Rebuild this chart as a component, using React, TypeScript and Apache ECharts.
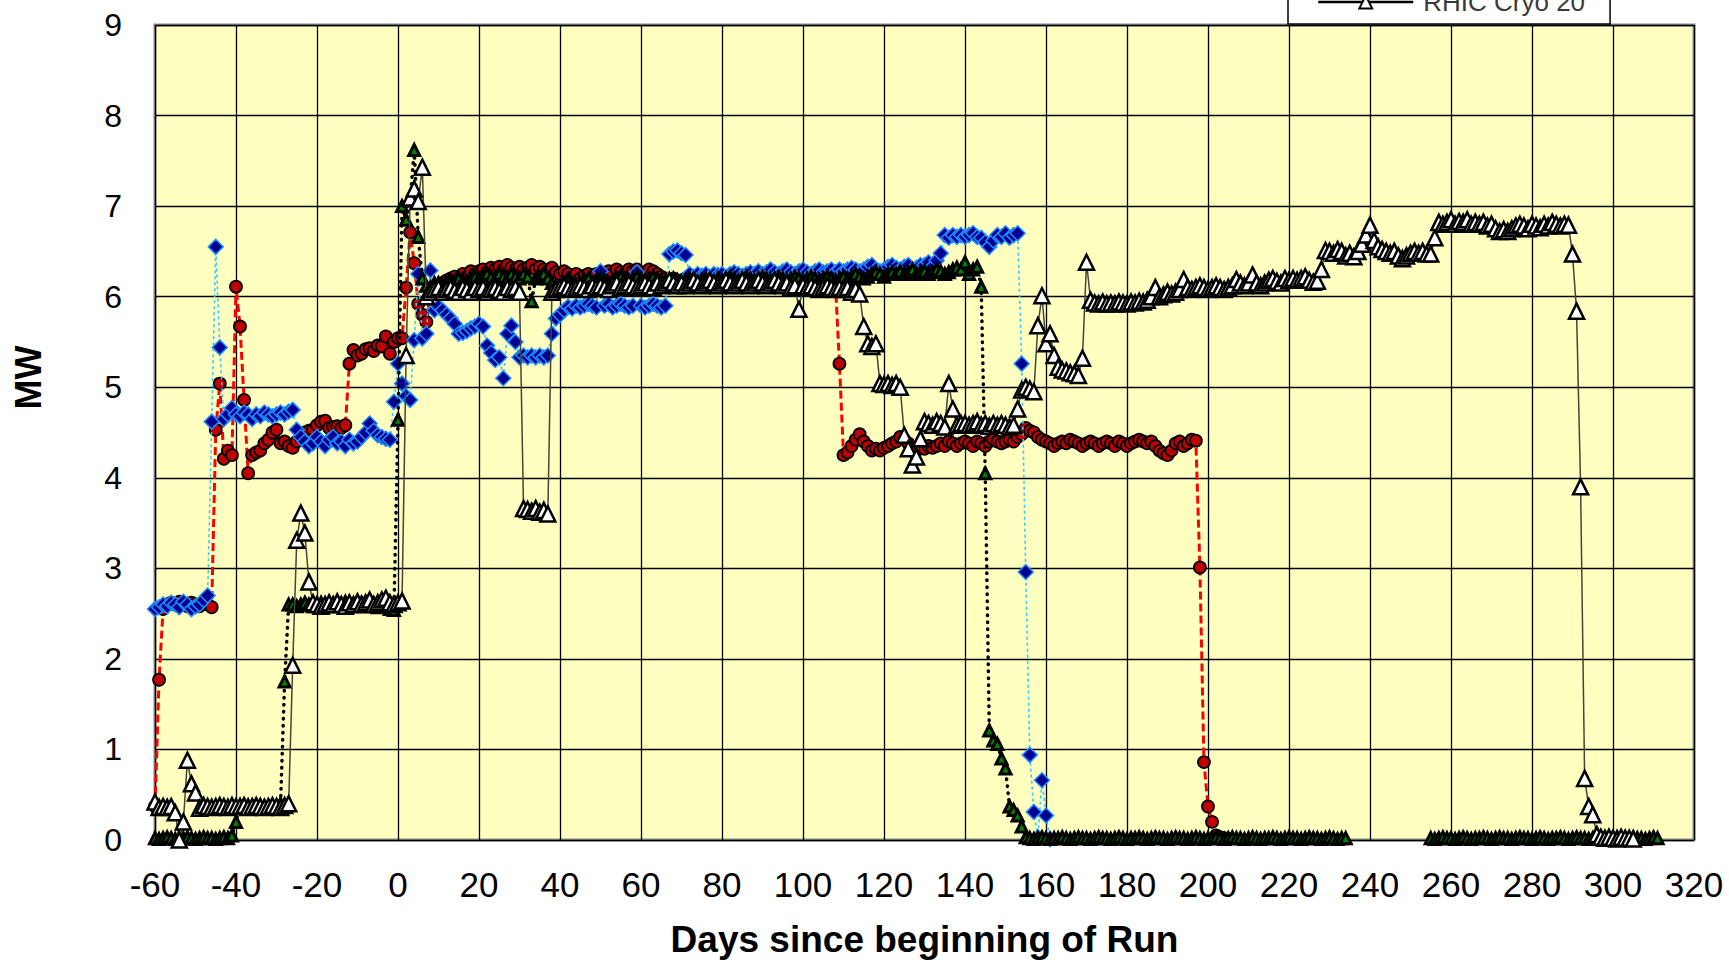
import React, { useEffect, useRef } from "react";
import * as echarts from "echarts";

// Day index of the first value in each series array (one value per day)
const RED_START = -60;
const BLUE_START = -60;
const GREEN_START_A = -60;
const GREEN_START_B = 255;
const WHITE_START = -60;

const xTicks = { min: -60, max: 320, step: 20 };
const yTicks = { min: 0, max: 9, step: 1 };

const seriesNames = ["RHIC Cryo 17", "RHIC Cryo 18", "RHIC Cryo 19", "RHIC Cryo 20"];

// Red circles, dashed red line (MW)
const redMW = [
  0.37, 1.77, 2.55, 2.6, 2.62, 2.6, 2.63, 2.6, 2.58, 2.62,
  2.6, 2.58, 2.62, 2.6, 2.57, 4.53, 5.04, 4.21, 4.3, 4.25,
  6.11, 5.67, 4.86, 4.05, 4.25, 4.28, 4.3, 4.38, 4.42, 4.5,
  4.53, 4.38, 4.4, 4.35, 4.33, 4.4, 4.45, 4.5, 4.52, 4.53,
  4.58, 4.62, 4.63, 4.55, 4.56, 4.57, 4.55, 4.58, 5.26, 5.41,
  5.35, 5.37, 5.42, 5.43, 5.4, 5.46, 5.45, 5.56, 5.37, 5.5,
  5.54, 5.54, 6.1, 6.71, 6.37, 5.92, 5.8, 5.72, 6.05, 6.12,
  6.12, 6.15, 6.18, 6.2, 6.22, 6.2, 6.25, 6.22, 6.28, 6.25,
  6.28, 6.3, 6.27, 6.32, 6.3, 6.33, 6.3, 6.35, 6.32, 6.3,
  6.33, 6.3, 6.32, 6.35, 6.3, 6.33, 6.3, 6.28, 6.32, 6.27,
  6.25, 6.28, 6.25, 6.22, 6.25, 6.2, 6.23, 6.25, 6.22, 6.25,
  6.22, 6.25, 6.28, 6.25, 6.3, 6.27, 6.25, 6.3, 6.28, 6.3,
  6.25, 6.27, 6.3, 6.28, 6.25, 6.22, 6.2, 6.18, 6.2, 6.15,
  6.18, 6.2, 6.15, 6.18, 6.2, 6.17, 6.2, 6.15, 6.18, 6.2,
  6.2, 6.18, 6.2, 6.22, 6.2, 6.18, 6.2, 6.22, 6.2, 6.18,
  6.2, 6.22, 6.2, 6.18, 6.2, 6.22, 6.2, 6.18, 6.2, 6.22,
  6.2, 6.18, 6.2, 6.22, 6.2, 6.18, 6.2, 6.15, 6.15, 5.26,
  4.25, 4.28, 4.35, 4.42, 4.48, 4.4, 4.35, 4.3, 4.32, 4.3,
  4.33, 4.35, 4.38, 4.4, 4.45, 4.42, 4.38, 4.33, 4.3, 4.35,
  4.32, 4.35, 4.33, 4.35, 4.38, 4.35, 4.4, 4.38, 4.35, 4.38,
  4.4, 4.38, 4.35, 4.4, 4.38, 4.35, 4.4, 4.42, 4.4, 4.38,
  4.4, 4.42, 4.4, 4.45, 4.48, 4.55, 4.52, 4.5, 4.45, 4.42,
  4.4, 4.38, 4.35, 4.38, 4.4, 4.38, 4.42, 4.4, 4.38, 4.35,
  4.38, 4.4, 4.38, 4.35, 4.38, 4.4, 4.38, 4.35, 4.4, 4.38,
  4.35, 4.38, 4.4, 4.42, 4.4, 4.38, 4.4, 4.35, 4.3, 4.27,
  4.25, 4.3, 4.38, 4.4, 4.35, 4.38, 4.42, 4.41, 3.01, 0.86,
  0.37, 0.2, 0.05, 0.03, 0.02, 0.01,
];

// Blue diamonds, dotted light-blue line (MW)
const blueMW = [
  2.55, 2.57, 2.6, 2.58, 2.62, 2.6, 2.57, 2.63, 2.6, 2.55,
  2.58, 2.6, 2.65, 2.7, 4.62, 6.55, 5.44, 4.65, 4.7, 4.77,
  4.7, 4.68, 4.72, 4.7, 4.65, 4.7, 4.68, 4.72, 4.7, 4.68,
  4.7, 4.72, 4.7, 4.73, 4.75, 4.53, 4.45, 4.4, 4.35, 4.38,
  4.45, 4.4, 4.35, 4.42, 4.45, 4.38, 4.4, 4.35, 4.42, 4.38,
  4.4, 4.45, 4.5, 4.6, 4.52, 4.47, 4.45, 4.43, 4.42, 4.84,
  5.26, 5.04, 4.9, 4.86, 5.52, 6.25, 5.54, 5.59, 6.29, 5.85,
  5.89, 5.85, 5.8, 5.76, 5.7, 5.59, 5.6, 5.62, 5.65, 5.67,
  5.7, 5.67, 5.46, 5.38, 5.3, 5.33, 5.1, 5.59, 5.68, 5.5,
  5.33, 5.35, 5.33, 5.35, 5.33, 5.35, 5.33, 5.35, 5.59, 5.76,
  5.8, 5.85, 5.89, 5.87, 5.9, 5.88, 5.9, 5.92, 5.9, 5.88,
  6.28, 5.9, 5.92, 5.88, 5.9, 5.92, 5.9, 5.88, 5.9, 6.27,
  5.9, 5.88, 5.9, 5.92, 5.9, 5.88, 5.9, 6.47, 6.5, 6.51,
  6.48, 6.46, 6.25, 6.22, 6.25, 6.23, 6.25, 6.22, 6.25, 6.24,
  6.25, 6.22, 6.25, 6.27, 6.25, 6.23, 6.25, 6.27, 6.25, 6.28,
  6.25, 6.27, 6.3, 6.27, 6.25, 6.28, 6.3, 6.27, 6.25, 6.28,
  6.3, 6.27, 6.25, 6.28, 6.3, 6.27, 6.28, 6.3, 6.27, 6.3,
  6.28, 6.3, 6.32, 6.3, 6.28, 6.3, 6.33, 6.35, 6.3, 6.28,
  6.3, 6.33, 6.35, 6.32, 6.3, 6.33, 6.35, 6.3, 6.32, 6.35,
  6.35, 6.38, 6.33, 6.4, 6.48, 6.68, 6.65, 6.68, 6.66, 6.68,
  6.66, 6.68, 6.7, 6.66, 6.65, 6.6, 6.55, 6.62, 6.68, 6.66,
  6.7, 6.65, 6.68, 6.7, 5.26, 2.96, 0.94, 0.31, 0.03, 0.66,
  0.27, 0.01,
];

// Small green triangles, black dotted line (MW): first part
const greenMW_A = [
  0.02, 0.01, 0.02, 0.03, 0.02, 0.01, 0.02, 0.02, 0.03, 0.02,
  0.01, 0.02, 0.03, 0.02, 0.02, 0.01, 0.02, 0.03, 0.02, 0.05,
  0.2, 0.38, 0.37, 0.38, 0.36, 0.37, 0.38, 0.37, 0.36, 0.38,
  0.37, 0.4, 1.75, 2.6, 2.6, 2.58, 2.6, 2.62, 2.6, 2.58,
  2.6, 2.62, 2.6, 2.58, 2.6, 2.62, 2.6, 2.63, 2.6, 2.58,
  2.6, 2.62, 2.6, 2.58, 2.6, 2.57, 2.58, 2.6, 2.55, 2.54,
  4.64, 7.0, 6.85, 7.06, 7.62, 6.66, 6.2, 6.12, 6.1, 6.15,
  6.15, 6.12, 6.15, 6.18, 6.15, 6.2, 6.18, 6.15, 6.2, 6.22,
  6.2, 6.22, 6.25, 6.22, 6.2, 6.25, 6.22, 6.2, 6.25, 6.22,
  6.2, 6.25, 6.22, 5.95, 6.2, 6.22, 6.25, 6.2, 6.15, 6.12,
  6.12, 6.15, 6.18, 6.15, 6.12, 6.15, 6.18, 6.2, 6.15, 6.18,
  6.2, 6.18, 6.15, 6.18, 6.2, 6.22, 6.2, 6.18, 6.2, 6.22,
  6.2, 6.18, 6.2, 6.22, 6.2, 6.18, 6.15, 6.18, 6.2, 6.18,
  6.15, 6.18, 6.2, 6.18, 6.15, 6.18, 6.2, 6.18, 6.15, 6.2,
  6.18, 6.2, 6.22, 6.2, 6.18, 6.2, 6.22, 6.2, 6.18, 6.2,
  6.22, 6.2, 6.18, 6.2, 6.22, 6.2, 6.18, 6.2, 6.22, 6.2,
  6.18, 6.2, 6.22, 6.2, 6.18, 6.2, 6.22, 6.2, 6.18, 6.2,
  6.22, 6.2, 6.22, 6.25, 6.22, 6.2, 6.22, 6.25, 6.27, 6.25,
  6.22, 6.25, 6.27, 6.25, 6.28, 6.25, 6.27, 6.3, 6.25, 6.27,
  6.28, 6.25, 6.27, 6.3, 6.28, 6.25, 6.27, 6.3, 6.32, 6.3,
  6.38, 6.25, 6.3, 6.33, 6.11, 4.05, 1.21, 1.1, 1.06, 0.9,
  0.79, 0.37, 0.33, 0.27, 0.15, 0.03, 0.02, 0.01, 0.02, 0.03,
  0.02, 0.01, 0.02, 0.02, 0.03, 0.02, 0.01, 0.02, 0.03, 0.02,
  0.02, 0.01, 0.02, 0.03, 0.02, 0.02, 0.01, 0.02, 0.03, 0.02,
  0.01, 0.02, 0.02, 0.03, 0.02, 0.01, 0.02, 0.03, 0.02, 0.02,
  0.01, 0.02, 0.03, 0.02, 0.02, 0.01, 0.02, 0.03, 0.02, 0.01,
  0.02, 0.02, 0.03, 0.02, 0.01, 0.02, 0.03, 0.02, 0.02, 0.01,
  0.02, 0.03, 0.02, 0.01, 0.02, 0.02, 0.03, 0.02, 0.01, 0.02,
  0.03, 0.02, 0.02, 0.01, 0.02, 0.03, 0.02, 0.02, 0.01, 0.02,
  0.03, 0.02, 0.01, 0.02, 0.02,
];
// second part (after the gap)
const greenMW_B = [
  0.02, 0.01, 0.02, 0.03, 0.02, 0.02, 0.01, 0.02, 0.03, 0.02,
  0.01, 0.02, 0.02, 0.03, 0.02, 0.01, 0.02, 0.03, 0.02, 0.02,
  0.01, 0.02, 0.03, 0.02, 0.02, 0.01, 0.02, 0.03, 0.02, 0.01,
  0.02, 0.02, 0.03, 0.02, 0.01, 0.02, 0.03, 0.02, 0.02, 0.01,
  0.02, 0.03, 0.02, 0.01, 0.02, 0.02, 0.03, 0.02, 0.01, 0.02,
  0.03, 0.02, 0.02, 0.01, 0.02, 0.03, 0.02,
];

// White triangles, thin dark line (MW)
const whiteMW = [
  0.42, 0.36, 0.37, 0.36, 0.37, 0.3, 0.0, 0.2, 0.88, 0.62,
  0.52, 0.35, 0.38, 0.37, 0.36, 0.37, 0.38, 0.37, 0.36, 0.38,
  0.37, 0.37, 0.38, 0.36, 0.37, 0.38, 0.37, 0.36, 0.37, 0.38,
  0.37, 0.36, 0.38, 0.4, 1.93, 3.31, 3.61, 3.39, 2.85, 2.62,
  2.6, 2.58, 2.6, 2.62, 2.6, 2.63, 2.6, 2.58, 2.62, 2.6,
  2.63, 2.6, 2.62, 2.65, 2.6, 2.62, 2.65, 2.67, 2.62, 2.6,
  2.62, 2.64, 5.35, 7.09, 7.19, 7.05, 7.43, 6.0, 6.05, 6.08,
  6.1, 6.05, 6.08, 6.1, 6.07, 6.05, 6.1, 6.08, 6.05, 6.1,
  6.08, 6.1, 6.05, 6.08, 6.1, 6.07, 6.05, 6.1, 6.08, 6.1,
  6.05, 3.66, 3.65, 3.63, 3.66, 3.62, 3.64, 3.6, 6.05, 6.08,
  6.1, 6.12, 6.1, 6.08, 6.1, 6.12, 6.1, 6.08, 6.12, 6.1,
  6.12, 6.1, 6.08, 6.12, 6.15, 6.1, 6.12, 6.15, 6.12, 6.1,
  6.12, 6.15, 6.12, 6.1, 6.15, 6.12, 6.15, 6.18, 6.15, 6.12,
  6.15, 6.12, 6.15, 6.18, 6.15, 6.12, 6.15, 6.18, 6.15, 6.12,
  6.15, 6.18, 6.15, 6.12, 6.15, 6.18, 6.15, 6.12, 6.15, 6.18,
  6.15, 6.12, 6.15, 6.18, 6.15, 6.12, 6.15, 6.1, 6.12, 5.86,
  6.12, 6.1, 6.12, 6.1, 6.08, 6.1, 6.12, 6.1, 6.08, 6.1,
  6.08, 6.1, 6.05, 6.08, 6.03, 5.67, 5.48, 5.45, 5.48, 5.04,
  5.03, 5.04, 5.02, 5.04, 5.0, 4.47, 4.32, 4.14, 4.23, 4.43,
  4.62, 4.6, 4.58, 4.62, 4.6, 4.56, 5.04, 4.76, 4.58, 4.6,
  4.6, 4.58, 4.6, 4.62, 4.58, 4.6, 4.57, 4.6, 4.58, 4.6,
  4.58, 4.56, 4.58, 4.76, 4.97, 5.0, 4.98, 4.95, 5.68, 6.01,
  5.48, 5.59, 5.35, 5.22, 5.19, 5.18, 5.16, 5.15, 5.13, 5.32,
  6.38, 5.96, 5.93, 5.92, 5.94, 5.92, 5.93, 5.92, 5.94, 5.93,
  5.92, 5.94, 5.93, 5.95, 5.94, 5.96, 6.0, 6.1, 6.0, 6.02,
  6.05, 6.03, 6.05, 6.08, 6.19, 6.1, 6.08, 6.1, 6.12, 6.1,
  6.08, 6.1, 6.12, 6.1, 6.08, 6.1, 6.12, 6.19, 6.15, 6.12,
  6.15, 6.24, 6.15, 6.12, 6.15, 6.18, 6.2, 6.17, 6.15, 6.2,
  6.18, 6.2, 6.18, 6.2, 6.22, 6.18, 6.16, 6.17, 6.3, 6.51,
  6.5, 6.48, 6.52, 6.5, 6.45, 6.48, 6.44, 6.5, 6.58, 6.68,
  6.79, 6.62, 6.55, 6.52, 6.5, 6.48, 6.5, 6.45, 6.42, 6.45,
  6.48, 6.5, 6.48, 6.5, 6.47, 6.47, 6.65, 6.82, 6.8, 6.82,
  6.85, 6.8, 6.83, 6.82, 6.85, 6.8, 6.82, 6.8, 6.82, 6.78,
  6.8, 6.75, 6.72, 6.74, 6.72, 6.75, 6.78, 6.8, 6.78, 6.75,
  6.8, 6.78, 6.76, 6.8, 6.78, 6.82, 6.8, 6.78, 6.8, 6.79,
  6.47, 5.84, 3.9, 0.68, 0.37, 0.28, 0.06, 0.03, 0.02, 0.03,
  0.02, 0.01, 0.03, 0.02, 0.02, 0.01,
];

const FONT = "'Liberation Sans', Arial, sans-serif";

function toPairs(start: number, values: (number | null)[]) {
  return values.map((v, i) => [start + i, v === null ? "-" : v]);
}

export default function App() {
  const ref = useRef<HTMLDivElement>(null);

  useEffect(() => {
    if (!ref.current) return;
    const chart = echarts.init(ref.current, undefined, { renderer: "svg" });

    const greenData = [
      ...toPairs(GREEN_START_A, greenMW_A),
      [GREEN_START_A + greenMW_A.length, "-"],
      ...toPairs(GREEN_START_B, greenMW_B),
    ];

    const option: any = {
      animation: false,
      backgroundColor: "#ffffff",
      legend: {
        data: [seriesNames[3]],
        orient: "vertical",
        left: 1288,
        bottom: 936,
        padding: [100, 25, 9, 29],
        itemWidth: 95,
        itemHeight: 16,
        itemGap: 10,
        backgroundColor: "#ffffff",
        borderColor: "#000000",
        borderWidth: 1.5,
        selectedMode: false,
        textStyle: { fontSize: 26, color: "#3a3a3a", fontFamily: FONT, padding: [0, 0, 0, 5] },
        lineStyle: { color: "#000000", width: 2.5 },
      },
      grid: {
        left: 155,
        right: 35,
        top: 25,
        bottom: 120,
        show: true,
        outerBoundsMode: "none",
        containLabel: false,
        backgroundColor: "#ffffc0",
        borderColor: "#8c8c8c",
        borderWidth: 3,
      },
      xAxis: {
        type: "value",
        min: xTicks.min,
        max: xTicks.max,
        interval: xTicks.step,
        axisLine: { show: false },
        axisTick: { show: false },
        splitLine: { show: true, lineStyle: { color: "#000000", width: 1.3 } },
        axisLabel: { fontSize: 35, color: "#000000", margin: 27, fontFamily: FONT },
        name: "Days since beginning of Run",
        nameLocation: "middle",
        nameGap: 81,
        nameTextStyle: { fontSize: 37, fontWeight: "bold", color: "#000000", fontFamily: FONT },
      },
      yAxis: {
        type: "value",
        min: yTicks.min,
        max: yTicks.max,
        interval: yTicks.step,
        axisLine: { show: false },
        axisTick: { show: false },
        splitLine: { show: true, lineStyle: { color: "#000000", width: 1.3 } },
        axisLabel: { fontSize: 32, color: "#000000", margin: 33, fontFamily: FONT },
        name: "MW",
        nameLocation: "middle",
        nameRotate: 90,
        nameGap: 109,
        nameTextStyle: {
          fontSize: 36,
          fontWeight: "bold",
          color: "#000000",
          fontFamily: FONT,
          padding: [0, 0, 0, 110],
        },
      },
      series: [
        {
          name: seriesNames[0],
          type: "line",
          data: toPairs(RED_START, redMW),
          symbol: "circle",
          symbolSize: 12,
          showAllSymbol: true,
          clip: false,
          silent: true,
          z: 2,
          itemStyle: { color: "#c00000", borderColor: "#000000", borderWidth: 1.8 },
          lineStyle: { color: "#ff0000", width: 3, type: [8, 4] },
        },
        {
          name: seriesNames[1],
          type: "line",
          data: toPairs(BLUE_START, blueMW),
          symbol: "diamond",
          symbolSize: 15,
          showAllSymbol: true,
          clip: false,
          silent: true,
          z: 3,
          itemStyle: { color: "#000090", borderColor: "#1e8fff", borderWidth: 1.5 },
          lineStyle: { color: "#33ccff", width: 1.6, type: [3, 3] },
        },
        {
          name: seriesNames[2],
          type: "line",
          data: greenData,
          symbol: "triangle",
          symbolSize: 11,
          showAllSymbol: true,
          clip: false,
          silent: true,
          z: 4,
          itemStyle: { color: "#008000", borderColor: "#000000", borderWidth: 3 },
          lineStyle: { color: "#000000", width: 3.5, type: [0.5, 6.5], cap: "round" },
        },
        {
          name: seriesNames[3],
          type: "line",
          data: toPairs(WHITE_START, whiteMW),
          symbol: "triangle",
          symbolSize: 15,
          showAllSymbol: true,
          clip: false,
          silent: true,
          z: 5,
          itemStyle: { color: "#ffffff", borderColor: "#000000", borderWidth: 2.5 },
          lineStyle: { color: "#45453a", width: 1.5 },
        },
      ],
    };

    chart.setOption(option);
    return () => chart.dispose();
  }, []);

  return (
    <div
      ref={ref}
      style={{ position: "absolute", left: 0, top: 0, width: 1729, height: 960 }}
    />
  );
}
